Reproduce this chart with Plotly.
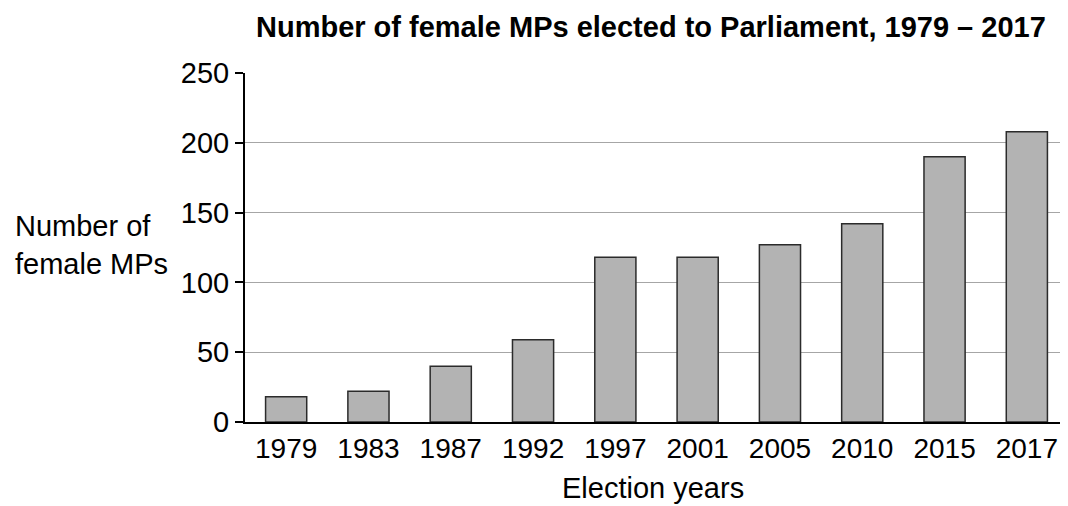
import plotly.graph_objects as go

years = ["1979", "1983", "1987", "1992", "1997", "2001", "2005", "2010", "2015", "2017"]
female_mps = [18, 22, 40, 59, 118, 118, 127, 142, 190, 208]
y_ticks = [0, 50, 100, 150, 200, 250]

title_text = "Number of female MPs elected to Parliament, 1979 – 2017"
y_title = "Number of<br>female MPs"
x_title = "Election years"

FONT = "Liberation Sans, Arial, sans-serif"

L = 237
W = 1060
PW = W - L

fig = go.Figure()
fig.add_trace(go.Bar(
    x=years, y=female_mps,
    marker=dict(color="#b3b3b3", line=dict(color="#2b2b2b", width=1.5)),
    width=0.5,
))

fig.update_layout(
    width=W, height=498,
    margin=dict(l=L, r=0, t=65, b=84),
    paper_bgcolor="white", plot_bgcolor="white",
    showlegend=False,
    font=dict(family=FONT, size=29, color="black"),
    title=dict(text="<b>" + title_text + "</b>",
               font=dict(family=FONT, size=29, color="black"),
               x=0.6065, xanchor="center", y=0.962, yanchor="middle"),
    annotations=[
        dict(text=y_title, xref="paper", yref="paper", x=(5 - L) / PW, y=0.508,
             xanchor="left", yanchor="middle", align="left", showarrow=False,
             font=dict(family=FONT, size=29, color="black")),
        dict(text=x_title, xref="paper", yref="paper", x=(645 - L) / PW, y=-0.19,
             xanchor="center", yanchor="middle", showarrow=False,
             font=dict(family=FONT, size=29, color="black")),
    ],
)

fig.update_xaxes(
    type="category", range=[-0.5, 9.5],
    showline=True, linecolor="black", linewidth=2,
    ticks="", showgrid=False,
    tickfont=dict(family=FONT, size=28, color="black"),
)
fig.update_yaxes(
    range=[0, 250], tickvals=y_ticks,
    showline=True, linecolor="black", linewidth=2,
    ticks="outside", ticklen=8, tickcolor="black", tickwidth=1.5,
    showgrid=True, gridcolor="#a6a6a6", gridwidth=1.2,
    zeroline=False,
    tickfont=dict(family=FONT, size=29, color="black"),
)

fig.write_html("out.html")
